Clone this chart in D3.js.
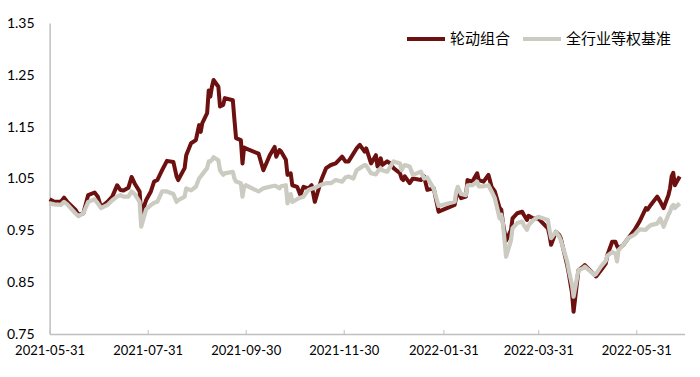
<!DOCTYPE html>
<html lang="zh"><head>
<meta charset="UTF-8">
<title>轮动组合</title>
<script src="https://cdn.jsdelivr.net/npm/d3@7"></script>
<style>
  body { margin: 0; background: #fff; }
  text { font-family: Lato, "Noto Sans CJK SC", sans-serif; fill: #000; }
</style>
</head>
<body>
<script>

var width = 700;
var height = 377;

// trading dates
var dates = [
  "2021-05-31","2021-06-03","2021-06-07","2021-06-09","2021-06-11","2021-06-16","2021-06-18","2021-06-21","2021-06-24","2021-06-28",
  "2021-06-30","2021-07-02","2021-07-06","2021-07-09","2021-07-12","2021-07-14","2021-07-16","2021-07-19","2021-07-21","2021-07-23",
  "2021-07-26","2021-07-27","2021-07-30","2021-08-02","2021-08-04","2021-08-06","2021-08-09","2021-08-12","2021-08-16","2021-08-18",
  "2021-08-19","2021-08-23","2021-08-24","2021-08-27","2021-08-30","2021-09-01","2021-09-02","2021-09-03","2021-09-06","2021-09-07",
  "2021-09-08","2021-09-09","2021-09-10","2021-09-13","2021-09-14","2021-09-16","2021-09-17","2021-09-22","2021-09-23","2021-09-24",
  "2021-09-27","2021-09-28","2021-09-29","2021-09-30","2021-10-08","2021-10-11","2021-10-15","2021-10-18","2021-10-19","2021-10-21",
  "2021-10-22","2021-10-25","2021-10-26","2021-10-28","2021-10-29","2021-11-01","2021-11-03","2021-11-05","2021-11-08","2021-11-10",
  "2021-11-12","2021-11-16","2021-11-19","2021-11-22","2021-11-25","2021-11-29","2021-12-01","2021-12-03","2021-12-06","2021-12-08",
  "2021-12-10","2021-12-13","2021-12-14","2021-12-17","2021-12-20","2021-12-21","2021-12-23","2021-12-24","2021-12-27","2021-12-29",
  "2021-12-31","2022-01-04","2022-01-05","2022-01-06","2022-01-07","2022-01-10","2022-01-12","2022-01-17","2022-01-19","2022-01-21",
  "2022-01-25","2022-01-28","2022-02-07","2022-02-08","2022-02-09","2022-02-11","2022-02-14","2022-02-15","2022-02-18","2022-02-21",
  "2022-02-22","2022-02-25","2022-02-28","2022-03-02","2022-03-04","2022-03-07","2022-03-08","2022-03-09","2022-03-11","2022-03-14",
  "2022-03-15","2022-03-18","2022-03-21","2022-03-22","2022-03-24","2022-03-25","2022-03-28","2022-03-31","2022-04-06","2022-04-07",
  "2022-04-08","2022-04-11","2022-04-13","2022-04-14","2022-04-18","2022-04-19","2022-04-21","2022-04-22","2022-04-25","2022-04-28",
  "2022-04-29","2022-05-05","2022-05-06","2022-05-09","2022-05-12","2022-05-13","2022-05-16","2022-05-18","2022-05-19","2022-05-20",
  "2022-05-23","2022-05-26","2022-05-30","2022-06-02","2022-06-06","2022-06-07","2022-06-09","2022-06-13","2022-06-15","2022-06-17",
  "2022-06-20","2022-06-21","2022-06-22","2022-06-23","2022-06-24","2022-06-27"
];

// 轮动组合
var rotation = [
  1.010,1.005,1.005,1.013,1.005,0.990,0.980,0.983,1.018,1.023,
  1.015,0.995,1.005,1.015,1.037,1.028,1.027,1.032,1.053,1.040,
  1.025,0.980,1.008,1.025,1.044,1.047,1.066,1.084,1.082,1.054,
  1.047,1.070,1.095,1.118,1.124,1.153,1.140,1.157,1.176,1.220,
  1.208,1.227,1.240,1.227,1.189,1.192,1.205,1.201,1.163,1.128,
  1.124,1.079,1.110,1.108,1.098,1.066,1.095,1.111,1.092,1.105,
  1.102,1.086,1.057,1.060,1.037,1.034,1.018,1.034,1.031,1.037,
  1.005,1.047,1.070,1.076,1.079,1.092,1.083,1.083,1.098,1.108,
  1.115,1.102,1.108,1.079,1.095,1.073,1.089,1.076,1.083,1.079,
  1.070,1.060,1.050,1.047,1.054,1.041,1.050,1.047,1.054,1.028,
  1.031,0.986,0.999,1.015,1.025,1.012,1.015,1.047,1.044,1.060,
  1.047,1.044,1.057,1.034,1.025,0.993,0.990,0.965,0.930,0.950,
  0.973,0.983,0.986,0.980,0.970,0.978,0.973,0.973,0.954,0.941,
  0.922,0.947,0.941,0.935,0.883,0.867,0.829,0.793,0.873,0.880,
  0.883,0.864,0.861,0.873,0.886,0.902,0.928,0.928,0.920,0.915,
  0.922,0.935,0.951,0.967,0.993,0.990,0.999,1.015,1.005,0.993,
  1.018,1.031,1.054,1.061,1.037,1.054
];

// 全行业等权基准
var benchmark = [
  1.002,1.000,0.999,1.005,1.000,0.983,0.977,0.983,1.005,1.010,
  1.002,0.993,0.999,1.008,1.015,1.018,1.015,1.015,1.025,1.020,
  1.005,0.957,0.990,0.999,1.003,1.005,1.025,1.025,1.020,1.005,
  1.008,1.015,1.031,1.027,1.034,1.050,1.054,1.058,1.070,1.083,
  1.083,1.086,1.091,1.085,1.066,1.057,1.060,1.063,1.050,1.044,
  1.041,1.015,1.034,1.037,1.025,1.031,1.034,1.036,1.035,1.031,
  1.035,1.037,1.002,1.020,1.005,1.010,1.013,1.015,1.028,1.030,
  1.032,1.038,1.041,1.041,1.047,1.044,1.052,1.054,1.050,1.066,
  1.070,1.076,1.075,1.060,1.058,1.063,1.070,1.066,1.063,1.073,
  1.083,1.079,1.066,1.072,1.076,1.073,1.057,1.063,1.050,1.052,
  1.030,0.997,1.005,1.025,1.034,1.020,1.018,1.037,1.037,1.044,
  1.035,1.035,1.037,1.025,1.012,0.973,0.980,0.964,0.899,0.930,
  0.954,0.964,0.967,0.960,0.951,0.960,0.970,0.976,0.970,0.951,
  0.935,0.947,0.938,0.931,0.890,0.873,0.845,0.822,0.873,0.877,
  0.880,0.864,0.866,0.880,0.891,0.901,0.908,0.905,0.890,0.912,
  0.922,0.935,0.942,0.952,0.951,0.955,0.960,0.963,0.973,0.957,
  0.980,0.986,0.995,0.999,0.993,1.002
];

var seriesNames = ["轮动组合", "全行业等权基准"];
var seriesColors = ["#6d1010", "#cbcbc2"];

var xTickLabels = ["2021-05-31","2021-07-31","2021-09-30","2021-11-30","2022-01-31","2022-03-31","2022-05-31"];
var yTickValues = [0.75, 0.85, 0.95, 1.05, 1.15, 1.25, 1.35];

var parseDate = d3.timeParse("%Y-%m-%d");
var fmtDate = d3.timeFormat("%Y-%m-%d");

var svg = d3.select("body")
            .append("svg")
            .attr("width", width)
            .attr("height", height);

var x = d3.scaleTime()
          .domain([parseDate("2021-05-31"), parseDate("2022-06-30")])
          .range([49.6, 684.5]);

var y = d3.scaleLinear()
          .domain([0.75, 1.35])
          .range([334, 23]);

// axes
var xAxis = d3.axisBottom(x)
              .tickValues(xTickLabels.map(parseDate))
              .tickFormat(fmtDate)
              .tickSizeInner(-4)
              .tickSizeOuter(0);

var gx = svg.append("g")
            .attr("transform", "translate(0,334)")
            .call(xAxis);
gx.select(".domain").attr("stroke", "#bfbfbf").attr("stroke-width", 1.5);
gx.selectAll(".tick line").attr("stroke", "#bfbfbf");
gx.selectAll(".tick text")
  .attr("font-size", 13)
  .attr("font-family", "Lato")
  .attr("y", 12)
  .attr("dy", "0.71em");

var yAxis = d3.axisLeft(y)
              .tickValues(yTickValues)
              .tickFormat(d3.format(".2f"))
              .tickSize(0)
              .tickPadding(15);

var gy = svg.append("g")
            .attr("transform", "translate(49.6,0)")
            .call(yAxis);
gy.select(".domain").attr("stroke", "#bfbfbf").attr("stroke-width", 1.5);
gy.selectAll(".tick text")
  .attr("font-size", 14)
  .attr("font-family", "Lato");

// lines (benchmark drawn on top)
var line = d3.line()
             .x(function(d) { return x(d.date); })
             .y(function(d) { return y(d.value); });

var allSeries = [rotation, benchmark].map(function(vals, i) {
  return {
    name: seriesNames[i],
    color: seriesColors[i],
    width: i === 0 ? 4 : 4.2,
    values: vals.map(function(v, j) { return {date: parseDate(dates[j]), value: v}; })
  };
});

svg.selectAll(".series")
   .data(allSeries)
   .enter()
   .append("path")
   .attr("class", "series")
   .attr("fill", "none")
   .attr("stroke", function(d) { return d.color; })
   .attr("stroke-width", function(d) { return d.width; })
   .attr("stroke-linejoin", "round")
   .attr("d", function(d) { return line(d.values); });

// legend
var legendX = [407, 523];
var legend = svg.selectAll(".legend")
                .data(allSeries)
                .enter()
                .append("g")
                .attr("class", "legend")
                .attr("transform", function(d, i) { return "translate(" + legendX[i] + ",39)"; });

legend.append("line")
      .attr("x1", 0).attr("x2", 38)
      .attr("stroke", function(d) { return d.color; })
      .attr("stroke-width", 4);

legend.append("text")
      .attr("x", 43)
      .attr("dy", "0.35em")
      .attr("font-size", 15)
      .attr("font-family", "Noto Sans CJK SC")
      .text(function(d) { return d.name; });

</script>
</body></html>
